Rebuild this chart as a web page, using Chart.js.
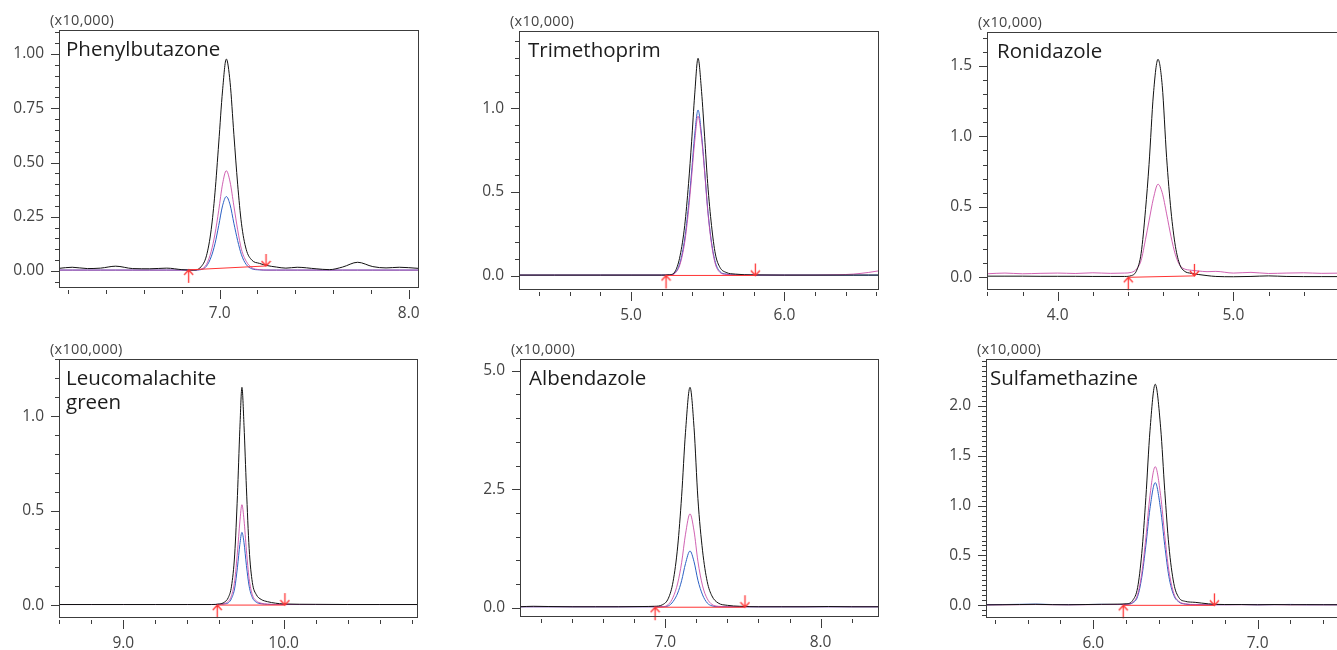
<!DOCTYPE html>
<html>
<head>
<meta charset="utf-8">
<title>MRM chromatograms</title>
<script src="https://cdn.jsdelivr.net/npm/chart.js@4.4.1/dist/chart.umd.min.js"></script>
<style>
html, body { margin: 0; padding: 0; background: #fff; overflow: hidden; width: 1337px; height: 650px; }
canvas { position: absolute; }
.mult { position: absolute; font-family: 'Open Sans', sans-serif; font-size: 14.5px; color: #444; letter-spacing: 0.3px; line-height: 16px; white-space: nowrap; }
.name { position: absolute; font-family: 'Open Sans', sans-serif; font-size: 20.5px; color: #1c1c1c; line-height: 24px; white-space: nowrap; }
</style>
</head>
<body>
<script>
// Phenylbutazone
const pbzX = [6.15, 6.22, 6.30, 6.37, 6.45, 6.54, 6.63, 6.72, 6.80, 6.86, 6.90, 6.93, 6.955, 6.975, 6.995, 7.015, 7.035, 7.055, 7.075, 7.095, 7.115, 7.14, 7.17, 7.21, 7.25, 7.30, 7.35, 7.41, 7.51, 7.58, 7.65, 7.73, 7.81, 7.88, 7.95, 8.05];
const pbzBlack = [0.012, 0.017, 0.011, 0.013, 0.022, 0.011, 0.010, 0.013, 0.006, 0.004, 0.018, 0.07, 0.19, 0.36, 0.59, 0.83, 0.977, 0.87, 0.63, 0.40, 0.22, 0.10, 0.05, 0.035, 0.025, 0.018, 0.013, 0.017, 0.010, 0.006, 0.018, 0.040, 0.020, 0.014, 0.017, 0.012];
const pbzPink = [0.004, 0.004, 0.004, 0.004, 0.004, 0.004, 0.004, 0.004, 0.004, 0.004, 0.008, 0.03, 0.09, 0.17, 0.28, 0.40, 0.462, 0.41, 0.30, 0.19, 0.10, 0.045, 0.015, 0.006, 0.004, 0.004, 0.004, 0.004, 0.004, 0.004, 0.004, 0.004, 0.004, 0.004, 0.004, 0.004];
const pbzBlue = [0.004, 0.004, 0.004, 0.004, 0.004, 0.004, 0.004, 0.004, 0.004, 0.004, 0.006, 0.022, 0.065, 0.125, 0.21, 0.30, 0.343, 0.305, 0.22, 0.14, 0.075, 0.03, 0.01, 0.005, 0.004, 0.004, 0.004, 0.004, 0.004, 0.004, 0.004, 0.004, 0.004, 0.004, 0.004, 0.004];
const pbzBaseX = [6.836, 7.245];
const pbzBaseY = [0.005, 0.023];

// Trimethoprim
const tmpX = [4.27, 4.5, 4.8, 5.0, 5.2, 5.25, 5.29, 5.32, 5.35, 5.375, 5.395, 5.415, 5.437, 5.46, 5.48, 5.50, 5.525, 5.55, 5.58, 5.62, 5.68, 5.8, 6.0, 6.2, 6.35, 6.45, 6.55, 6.62];
const tmpBlack = [0.004, 0.004, 0.004, 0.004, 0.004, 0.006, 0.03, 0.12, 0.30, 0.55, 0.80, 1.08, 1.299, 1.10, 0.83, 0.55, 0.30, 0.13, 0.05, 0.02, 0.01, 0.005, 0.004, 0.004, 0.004, 0.004, 0.004, 0.004];
const tmpPink = [0.004, 0.004, 0.004, 0.004, 0.004, 0.004, 0.018, 0.07, 0.20, 0.39, 0.59, 0.80, 0.954, 0.82, 0.62, 0.39, 0.19, 0.07, 0.02, 0.008, 0.005, 0.004, 0.004, 0.004, 0.006, 0.01, 0.02, 0.03];
const tmpBlue = [0.004, 0.004, 0.004, 0.004, 0.004, 0.005, 0.02, 0.08, 0.22, 0.42, 0.62, 0.84, 0.99, 0.84, 0.63, 0.40, 0.20, 0.08, 0.025, 0.01, 0.005, 0.004, 0.004, 0.004, 0.004, 0.004, 0.004, 0.004];
const tmpBaseX = [5.228, 5.811];
const tmpBaseY = [0.002, 0.002];

// Ronidazole
const rnzX = [3.6, 3.7, 3.8, 3.9, 4.0, 4.1, 4.2, 4.3, 4.38, 4.42, 4.45, 4.475, 4.5, 4.52, 4.545, 4.571, 4.595, 4.62, 4.645, 4.67, 4.695, 4.72, 4.76, 4.80, 4.85, 4.9, 5.0, 5.1, 5.2, 5.3, 5.4, 5.5, 5.64];
const rnzBlack = [0.008, 0.008, 0.008, 0.007, 0.007, 0.007, 0.006, 0.006, 0.006, 0.012, 0.05, 0.17, 0.48, 0.80, 1.30, 1.546, 1.36, 0.85, 0.47, 0.22, 0.09, 0.045, 0.028, 0.02, 0.012, 0.006, 0.004, 0.006, 0.01, 0.006, 0.005, 0.005, 0.005];
const rnzPink = [0.025, 0.03, 0.025, 0.028, 0.03, 0.027, 0.032, 0.028, 0.03, 0.035, 0.06, 0.12, 0.27, 0.40, 0.56, 0.66, 0.60, 0.45, 0.29, 0.16, 0.085, 0.06, 0.05, 0.045, 0.04, 0.042, 0.03, 0.035, 0.027, 0.03, 0.032, 0.028, 0.03];
const rnzBaseX = [4.402, 4.778];
const rnzBaseY = [0.0, 0.01];

// Leucomalachite green
const lmgX = [8.6, 8.8, 9.0, 9.2, 9.4, 9.55, 9.60, 9.63, 9.655, 9.675, 9.695, 9.712, 9.727, 9.74, 9.753, 9.768, 9.785, 9.805, 9.83, 9.86, 9.9, 9.95, 10.0, 10.2, 10.4, 10.6, 10.84];
const lmgBlack = [0.003, 0.003, 0.003, 0.003, 0.003, 0.003, 0.006, 0.015, 0.04, 0.10, 0.27, 0.58, 0.93, 1.152, 0.95, 0.62, 0.30, 0.12, 0.055, 0.03, 0.018, 0.01, 0.006, 0.004, 0.003, 0.003, 0.003];
const lmgPink = [0.003, 0.003, 0.003, 0.003, 0.003, 0.003, 0.004, 0.008, 0.02, 0.05, 0.13, 0.28, 0.44, 0.531, 0.45, 0.29, 0.14, 0.055, 0.022, 0.01, 0.005, 0.003, 0.003, 0.003, 0.003, 0.003, 0.003];
const lmgBlue = [0.003, 0.003, 0.003, 0.003, 0.003, 0.003, 0.004, 0.006, 0.012, 0.035, 0.09, 0.2, 0.32, 0.385, 0.33, 0.21, 0.10, 0.04, 0.015, 0.007, 0.004, 0.003, 0.003, 0.003, 0.003, 0.003, 0.003];
const lmgBaseX = [9.586, 10.008];
const lmgBaseY = [0.0, 0.0];

// Albendazole
const abzX = [6.06, 6.15, 6.25, 6.4, 6.55, 6.7, 6.85, 6.93, 6.98, 7.02, 7.05, 7.08, 7.105, 7.13, 7.159, 7.185, 7.21, 7.24, 7.27, 7.30, 7.34, 7.40, 7.48, 7.6, 7.75, 7.9, 8.05, 8.2, 8.38];
const abzBlack = [0.02, 0.03, 0.025, 0.02, 0.02, 0.02, 0.025, 0.03, 0.06, 0.2, 0.55, 1.3, 2.35, 3.7, 4.65, 3.8, 2.3, 1.2, 0.55, 0.25, 0.1, 0.05, 0.03, 0.02, 0.02, 0.02, 0.025, 0.02, 0.02];
const abzPink = [0.02, 0.02, 0.02, 0.02, 0.02, 0.02, 0.02, 0.02, 0.02, 0.07, 0.22, 0.52, 0.95, 1.55, 1.98, 1.62, 0.98, 0.46, 0.19, 0.07, 0.03, 0.02, 0.02, 0.02, 0.02, 0.02, 0.02, 0.02, 0.02];
const abzBlue = [0.02, 0.02, 0.02, 0.02, 0.02, 0.02, 0.02, 0.02, 0.02, 0.04, 0.13, 0.31, 0.57, 0.93, 1.196, 0.97, 0.58, 0.27, 0.1, 0.04, 0.02, 0.02, 0.02, 0.02, 0.02, 0.02, 0.02, 0.02, 0.02];
const abzBaseX = [6.934, 7.513];
const abzBaseY = [0.01, 0.01];

// Sulfamethazine
const smzX = [5.35, 5.45, 5.55, 5.65, 5.75, 5.85, 5.95, 6.05, 6.15, 6.2, 6.24, 6.27, 6.295, 6.32, 6.345, 6.377, 6.41, 6.435, 6.46, 6.49, 6.52, 6.56, 6.62, 6.7, 6.8, 6.9, 7.0, 7.1, 7.2, 7.3, 7.4, 7.54];
const smzBlack = [0.005, 0.006, 0.008, 0.01, 0.007, 0.006, 0.008, 0.01, 0.012, 0.015, 0.05, 0.18, 0.52, 1.08, 1.75, 2.217, 1.78, 1.15, 0.6, 0.22, 0.08, 0.04, 0.03, 0.015, 0.008, 0.008, 0.006, 0.008, 0.006, 0.007, 0.006, 0.006];
const smzPink = [0.004, 0.005, 0.006, 0.008, 0.006, 0.005, 0.006, 0.008, 0.008, 0.01, 0.03, 0.11, 0.32, 0.68, 1.1, 1.39, 1.1, 0.7, 0.35, 0.12, 0.04, 0.015, 0.008, 0.006, 0.005, 0.006, 0.005, 0.006, 0.005, 0.005, 0.005, 0.005];
const smzBlue = [0.006, 0.008, 0.01, 0.012, 0.008, 0.007, 0.008, 0.01, 0.008, 0.01, 0.025, 0.09, 0.28, 0.6, 0.97, 1.23, 0.96, 0.6, 0.29, 0.1, 0.035, 0.012, 0.006, 0.006, 0.007, 0.008, 0.006, 0.007, 0.009, 0.006, 0.007, 0.006];
const smzBaseX = [6.182, 6.737];
const smzBaseY = [0.0, 0.0];

const BLACK = '#111111';
const PINK = 'rgba(200, 70, 165, 0.85)';
const BLUE = '#2b60c4';
const RED = '#ff3434';
const AXIS = '#3c3c3c';
const TICK = '#444444';

// rect = plot area [left, top, right, bottom] in page pixels
const panels = [
  { rect: [59, 30, 418, 287], x: [6.150, 8.049], y: [-0.074, 1.111], yMinor: 0.05, yMajor: 0.25, yDec: 2,
    mult: '(x10,000)', title: ['Phenylbutazone'], titleDx: 7,
    xs: pbzX, black: pbzBlack, pink: pbzPink, blue: pbzBlue, baseX: pbzBaseX, baseY: pbzBaseY },
  { rect: [519, 31, 878, 289], x: [4.269, 6.611], y: [-0.079, 1.462], yMinor: 0.1, yMajor: 0.5, yDec: 1,
    mult: '(x10,000)', title: ['Trimethoprim'], titleDx: 9,
    xs: tmpX, black: tmpBlack, pink: tmpPink, blue: tmpBlue, baseX: tmpBaseX, baseY: tmpBaseY },
  { rect: [987, 32, 1345, 289], x: [3.598, 5.635], y: [-0.083, 1.740], yMinor: 0.1, yMajor: 0.5, yDec: 1,
    mult: '(x10,000)', title: ['Ronidazole'], titleDx: 10,
    xs: rnzX, black: rnzBlack, pink: rnzPink, blue: null, baseX: rnzBaseX, baseY: rnzBaseY },
  { rect: [59, 359, 417, 617], x: [8.599, 10.832], y: [-0.063, 1.302], yMinor: 0.1, yMajor: 0.5, yDec: 1,
    mult: '(x100,000)', title: ['Leucomalachite', 'green'], titleDx: 7,
    xs: lmgX, black: lmgBlack, pink: lmgPink, blue: lmgBlue, baseX: lmgBaseX, baseY: lmgBaseY },
  { rect: [520, 359, 878, 616], x: [6.064, 8.370], y: [-0.175, 5.247], yMinor: 0.5, yMajor: 2.5, yDec: 1,
    mult: '(x10,000)', title: ['Albendazole'], titleDx: 9,
    xs: abzX, black: abzBlack, pink: abzPink, blue: abzBlue, baseX: abzBaseX, baseY: abzBaseY },
  { rect: [986, 359, 1345, 617], x: [5.347, 7.532], y: [-0.117, 2.470], yMinor: 0.05, yMajor: 0.5, yDec: 1,
    mult: '(x10,000)', title: ['Sulfamethazine'], titleDx: 4,
    xs: smzX, black: smzBlack, pink: smzPink, blue: smzBlue, baseX: smzBaseX, baseY: smzBaseY }
];

function pts(xs, ys) {
  return xs.map((x, i) => ({ x: x, y: ys[i] }));
}

function onStep(v, step) {
  const r = v / step;
  return Math.abs(r - Math.round(r)) < 1e-6;
}

function arrowImage(up) {
  const c = document.createElement('canvas');
  c.width = 11;
  c.height = 28;
  const g = c.getContext('2d');
  g.strokeStyle = RED;
  g.lineWidth = 1.3;
  g.beginPath();
  if (up) {
    g.moveTo(5.5, 14); g.lineTo(5.5, 27);
    g.moveTo(1, 19); g.lineTo(5.5, 14); g.lineTo(10, 19);
  } else {
    g.moveTo(5.5, 14); g.lineTo(5.5, 2);
    g.moveTo(1, 9); g.lineTo(5.5, 14); g.lineTo(10, 9);
  }
  g.stroke();
  return c;
}
const upArrow = arrowImage(true);
const downArrow = arrowImage(false);

// box around the plot area plus major/minor tick marks outside it
const frame = {
  id: 'frame',
  afterDatasetsDraw(chart, args, opts) {
    const { ctx, chartArea: a, scales } = chart;
    ctx.save();
    ctx.strokeStyle = AXIS;
    ctx.lineWidth = 1;
    ctx.strokeRect(Math.round(a.left) + 0.5, Math.round(a.top) + 0.5,
      Math.round(a.right - a.left), Math.round(a.bottom - a.top));
    ctx.beginPath();
    scales.x.ticks.forEach(t => {
      const px = Math.round(scales.x.getPixelForValue(t.value)) + 0.5;
      ctx.moveTo(px, a.bottom + 3);
      ctx.lineTo(px, a.bottom + (onStep(t.value, opts.xMajor) ? 12 : 7));
    });
    scales.y.ticks.forEach(t => {
      const py = Math.round(scales.y.getPixelForValue(t.value)) + 0.5;
      ctx.moveTo(a.left, py);
      ctx.lineTo(a.left - (onStep(t.value, opts.yMajor) ? 8 : 4), py);
    });
    ctx.stroke();
    ctx.restore();
  }
};

Chart.defaults.font.family = "'Open Sans', sans-serif";
Chart.defaults.font.size = 15.5;

const padL = 60, padT = 30, padR = 40, padB = 40;

panels.forEach(p => {
  const [L, T, R, B] = p.rect;
  const W = R - L + padL + padR;
  const H = B - T + padT + padB;

  const cv = document.createElement('canvas');
  cv.width = W;
  cv.height = H;
  cv.style.left = (L - padL) + 'px';
  cv.style.top = (T - padT) + 'px';
  cv.style.width = W + 'px';
  cv.style.height = H + 'px';
  document.body.appendChild(cv);

  const mult = document.createElement('div');
  mult.className = 'mult';
  mult.textContent = p.mult;
  mult.style.left = (L - 9) + 'px';
  mult.style.top = (T - 18) + 'px';
  document.body.appendChild(mult);

  const name = document.createElement('div');
  name.className = 'name';
  name.innerHTML = p.title.join('<br>');
  name.style.left = (L + p.titleDx) + 'px';
  name.style.top = (T + 6) + 'px';
  document.body.appendChild(name);

  const line = (ys, color) => ({
    data: pts(p.xs, ys),
    borderColor: color,
    borderWidth: 1,
    pointRadius: 0,
    cubicInterpolationMode: 'monotone',
    fill: false
  });

  // Chart.js paints the first dataset last, so the top layer comes first
  const datasets = [];
  datasets.push({
    data: pts(p.baseX, p.baseY),
    showLine: false,
    pointStyle: [upArrow, downArrow],
    pointRadius: 6,
    clip: false
  });
  datasets.push({
    data: pts(p.baseX, p.baseY),
    borderColor: RED,
    borderWidth: 1,
    pointRadius: 0,
    tension: 0
  });
  datasets.push(line(p.black, BLACK));
  datasets.push(line(p.pink, PINK));
  if (p.blue) datasets.push(line(p.blue, BLUE));

  new Chart(cv, {
    type: 'line',
    data: { datasets: datasets },
    options: {
      responsive: false,
      animation: false,
      events: [],
      layout: { padding: { left: 0, top: padT, right: padR, bottom: 0 } },
      plugins: {
        legend: { display: false },
        tooltip: { enabled: false },
        frame: { xMajor: 1, yMajor: p.yMajor }
      },
      scales: {
        x: {
          type: 'linear',
          min: p.x[0],
          max: p.x[1],
          grid: { display: false, drawTicks: false },
          border: { display: false },
          ticks: {
            stepSize: 0.2,
            maxTicksLimit: 1000,
            includeBounds: false,
            autoSkip: false,
            maxRotation: 0,
            padding: 17,
            color: TICK,
            callback: v => onStep(v, 1) ? v.toFixed(1) : ''
          },
          afterFit: s => { s.height = padB; }
        },
        y: {
          type: 'linear',
          min: p.y[0],
          max: p.y[1],
          grid: { display: false, drawTicks: false },
          border: { display: false },
          ticks: {
            stepSize: p.yMinor,
            maxTicksLimit: 1000,
            includeBounds: false,
            autoSkip: false,
            padding: 15,
            color: TICK,
            callback: v => onStep(v, p.yMajor) ? v.toFixed(p.yDec) : ''
          },
          afterFit: s => { s.width = padL; }
        }
      }
    },
    plugins: [frame]
  });
});
</script>
</body>
</html>
